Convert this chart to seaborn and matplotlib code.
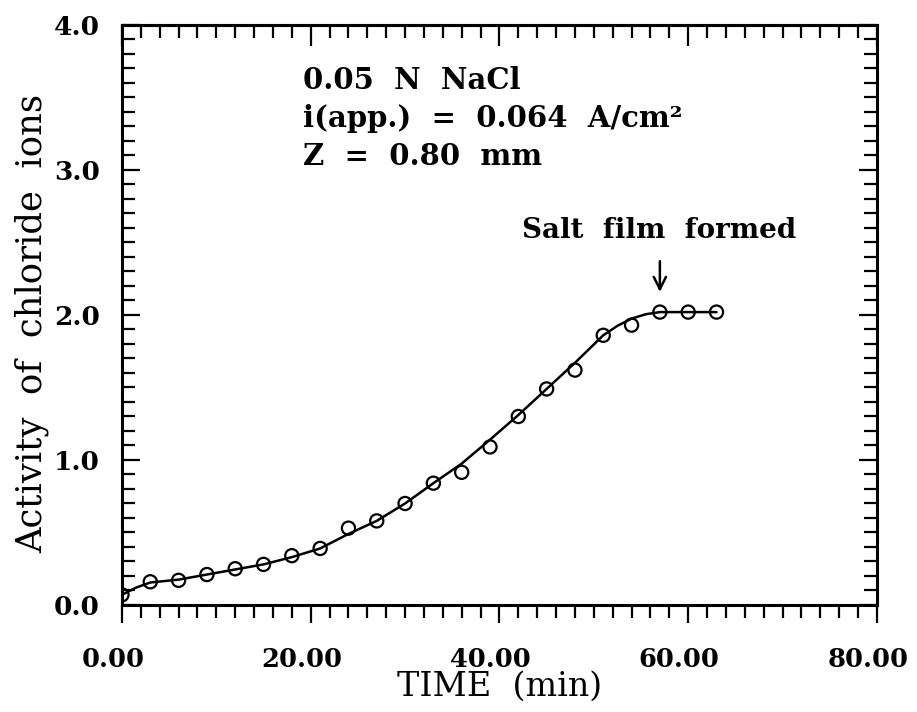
import matplotlib
matplotlib.use("Agg")
import matplotlib.pyplot as plt
from matplotlib.ticker import MultipleLocator
from matplotlib.transforms import ScaledTranslation
import seaborn as sns

# Measured activity of chloride ions vs. time
time_min = [0, 3, 6, 9, 12, 15, 18, 21, 24, 27, 30, 33, 36, 39, 42, 45, 48, 51, 54, 57, 60, 63]
activity = [0.07, 0.16, 0.17, 0.21, 0.25, 0.28, 0.34, 0.39, 0.53, 0.58, 0.70, 0.84,
            0.915, 1.09, 1.30, 1.49, 1.62, 1.86, 1.93, 2.02, 2.02, 2.02]

# Smooth fitted curve through the measurements
fit_time = [0, 1.5, 3, 6, 9, 12, 15, 18, 21, 24, 27, 30, 33, 36, 39, 42, 45, 48,
            51, 52.5, 54, 55.5, 57, 60, 63]
fit_activity = [0.07, 0.12, 0.155, 0.175, 0.21, 0.245, 0.28, 0.33, 0.39, 0.49, 0.58,
                0.70, 0.84, 0.975, 1.14, 1.31, 1.49, 1.67, 1.86, 1.925, 1.975, 2.005,
                2.02, 2.02, 2.02]

x_ticks = [0, 20, 40, 60, 80]
x_tick_labels = ["0.00", "20.00", "40.00", "60.00", "80.00"]
y_ticks = [0, 1, 2, 3, 4]
y_tick_labels = ["0.0", "1.0", "2.0", "3.0", "4.0"]

condition_lines = ["0.05  N  NaCl", "i(app.)  =  0.064  A/cm\u00b2", "Z  =  0.80  mm"]
event_label = "Salt  film  formed"
event_time = 57
event_activity = 2.02

sns.set_theme(style="ticks")
plt.rcParams["font.family"] = ["DejaVu Serif"]
plt.rcParams.update({"text.color": "black", "axes.labelcolor": "black",
                     "xtick.color": "black", "ytick.color": "black",
                     "xtick.labelcolor": "black", "ytick.labelcolor": "black"})

fig = plt.figure(figsize=(9.17, 7.12), dpi=100)
ax = fig.add_axes([0.1330, 0.1503, 0.8233, 0.8146])

sns.lineplot(x=fit_time, y=fit_activity, color="black", linewidth=1.8,
             sort=False, estimator=None, ax=ax, zorder=2)
sns.scatterplot(x=time_min, y=activity, marker="o", s=90, facecolors="none",
                edgecolors="black", linewidth=1.6, ax=ax, zorder=3)

ax.set_xlim(0, 80)
ax.set_ylim(0, 4)

ax.set_xticks(x_ticks, x_tick_labels, fontsize=18.5, fontweight="bold", color="black")
ax.set_yticks(y_ticks, y_tick_labels, fontsize=19, fontweight="bold", color="black")
ax.xaxis.set_minor_locator(MultipleLocator(2))
ax.yaxis.set_minor_locator(MultipleLocator(0.1))

ax.tick_params(axis="x", which="both", direction="out", bottom=True, top=False,
               width=1.6, color="black")
ax.tick_params(axis="x", which="major", length=13, pad=17)
ax.tick_params(axis="x", which="minor", length=9.5)
ax.tick_params(axis="y", which="both", direction="in", left=True, right=True,
               width=1.6, color="black")
ax.tick_params(axis="y", which="major", length=13, pad=16)
ax.tick_params(axis="y", which="minor", length=9.5)

# x tick labels sit slightly left of their ticks
shift_left = ScaledTranslation(-0.09, 0, fig.dpi_scale_trans)
for tick in ax.xaxis.get_major_ticks():
    tick.label1.set_transform(tick.label1.get_transform() + shift_left)

top = ax.secondary_xaxis("top")
top.xaxis.set_major_locator(MultipleLocator(20))
top.xaxis.set_minor_locator(MultipleLocator(2))
top.tick_params(which="both", direction="in", labeltop=False, width=1.6, color="black")
top.tick_params(which="major", length=15)
top.tick_params(which="minor", length=9)
top.spines["top"].set_linewidth(2.2)

for side in ["left", "right", "top", "bottom"]:
    ax.spines[side].set_visible(True)
    ax.spines[side].set_linewidth(2.2)
    ax.spines[side].set_color("black")

ax.set_xlabel("TIME  (min)", fontsize=24, color="black")
ax.xaxis.set_label_coords(0.5, -0.157)
ax.xaxis.label.set_va("baseline")

ax.set_ylabel("Activity  of  chloride  ions", fontsize=25.5, color="black")
ax.yaxis.set_label_coords(-0.106, 0.485)
ax.yaxis.label.set_va("baseline")

for i, line in enumerate(condition_lines):
    ax.text(19.2, 3.56 - i * 0.262, line, fontsize=21, fontweight="bold",
            va="baseline", ha="left", color="black")

ax.text(42.4, 2.53, event_label, fontsize=20, fontweight="bold",
        va="baseline", ha="left", color="black")
ax.annotate("", xy=(event_time, 2.14), xytext=(event_time, 2.39),
            arrowprops=dict(arrowstyle="->", color="black", lw=1.8,
                            mutation_scale=22))

fig.savefig("out.png", dpi=100)
